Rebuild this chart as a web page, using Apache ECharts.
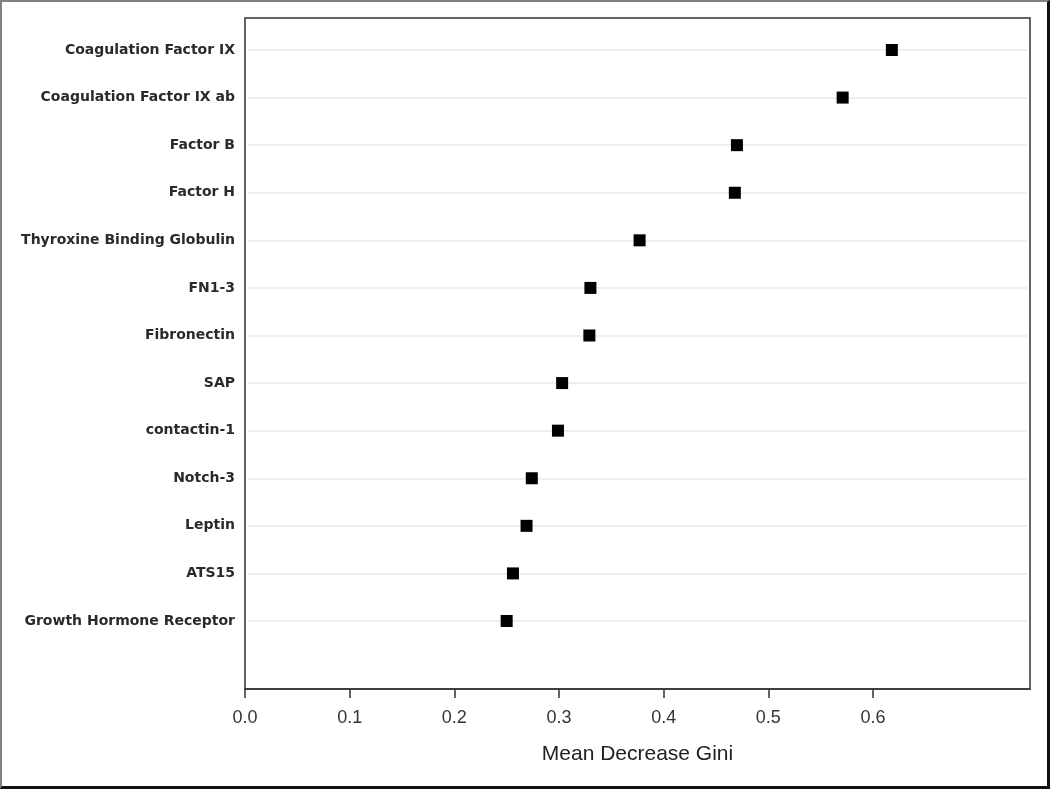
<!DOCTYPE html>
<html>
<head>
<meta charset="utf-8">
<script src="https://cdn.jsdelivr.net/npm/echarts@6/dist/echarts.min.js"></script>
<style>
    html, body { margin: 0; padding: 0; background: #fff; }
    #chart {
        width: 1050px;
        height: 789px;
        box-sizing: border-box;
        border-top: 2px solid #808080;
        border-left: 2px solid #808080;
        border-right: 3px solid #111;
        border-bottom: 3px solid #111;
    }
</style>
</head>
<body>
<div id="chart"></div>
<script>
// variables, top to bottom
const proteins = [
    'Coagulation Factor IX',
    'Coagulation Factor IX ab',
    'Factor B',
    'Factor H',
    'Thyroxine Binding Globulin',
    'FN1-3',
    'Fibronectin',
    'SAP',
    'contactin-1',
    'Notch-3',
    'Leptin',
    'ATS15',
    'Growth Hormone Receptor'
]
const meanDecreaseGini = [0.618, 0.571, 0.470, 0.468, 0.377, 0.330, 0.329, 0.303, 0.299, 0.274, 0.269, 0.256, 0.250]
const xTicks = [0.0, 0.1, 0.2, 0.3, 0.4, 0.5, 0.6]
const xMax = 0.75

const chartDom = document.getElementById('chart')
const myChart = echarts.init(chartDom)

// frame is 785px wide, the row lines stop 3px short of it on both sides
const inset = 3 * xMax / 785

// the div has borders, so the canvas starts at (2,2)
let option = {
    backgroundColor: '#fff',
    animation: false,
    grid: [
        {   // frame + value axis
            left: 243, right: 17, top: 16, bottom: 97,
            show: true,
            borderColor: '#333',
            borderWidth: 1.5
        },
        {   // rows
            left: 246, right: 20, top: 48, bottom: 165
        }
    ],
    xAxis: [{
        gridIndex: 0,
        type: 'value',
        min: 0,
        max: xMax,
        interval: 0.1,
        name: 'Mean Decrease Gini',
        nameLocation: 'middle',
        nameGap: 55,
        nameTextStyle: {
            fontFamily: 'Liberation Sans',
            fontSize: 21,
            color: '#222'
        },
        axisLine: { show: true, lineStyle: { color: '#333', width: 1.5 } },
        axisTick: {
            show: true, length: 9,
            customValues: xTicks,
            lineStyle: { color: '#333', width: 1.5 }
        },
        axisLabel: {
            margin: 20,
            fontFamily: 'Liberation Sans',
            fontSize: 18,
            color: '#333',
            customValues: xTicks,
            formatter: v => v.toFixed(1)
        },
        splitLine: { show: false }
    }, {
        gridIndex: 1,
        type: 'value',
        min: inset,
        max: xMax - inset,
        show: false,
        splitLine: { show: false }
    }],
    yAxis: [{
        gridIndex: 0,
        type: 'value',
        show: false
    }, {
        gridIndex: 1,
        type: 'category',
        inverse: true,
        boundaryGap: false,
        data: proteins,
        axisLine: { show: false },
        axisTick: { show: false },
        axisLabel: {
            margin: 13,
            fontFamily: 'DejaVu Sans',
            fontWeight: 'bold',
            fontSize: 14,
            color: '#2a2a2a'
        },
        splitLine: {
            show: true,
            lineStyle: { color: '#e8e8e8', width: 1.5 }
        }
    }],
    series: [{
        type: 'scatter',
        xAxisIndex: 1,
        yAxisIndex: 1,
        symbol: 'rect',
        symbolSize: 12,
        itemStyle: { color: '#000', opacity: 1 },
        data: meanDecreaseGini.map((v, i) => [v, proteins[i]])
    }]
}
myChart.setOption(option)
</script>
</body>
</html>
